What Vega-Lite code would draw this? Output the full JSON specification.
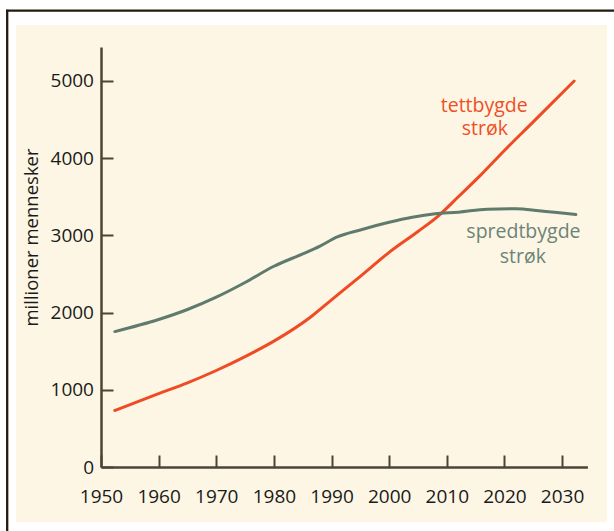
{
  "$schema": "https://vega.github.io/schema/vega-lite/v6.json",
  "autosize": {"type": "none"},
  "padding": {"left": 16, "top": 25, "right": 7, "bottom": 9},
  "width": 591,
  "height": 497,
  "background": "white",
  "config": {
    "view": {"fill": "#fdf6e4", "stroke": null},
    "axis": {"labelFont": "Open Sans", "titleFont": "Open Sans", "grid": false},
    "text": {"font": "Open Sans"}
  },
  "datasets": {
    "lines": [
      {"series": "tettbygde strøk", "year": 1952.4, "value": 732},
      {"series": "tettbygde strøk", "year": 1960, "value": 950},
      {"series": "tettbygde strøk", "year": 1965, "value": 1090},
      {"series": "tettbygde strøk", "year": 1970, "value": 1250},
      {"series": "tettbygde strøk", "year": 1975, "value": 1430},
      {"series": "tettbygde strøk", "year": 1980, "value": 1630},
      {"series": "tettbygde strøk", "year": 1986.5, "value": 1950},
      {"series": "tettbygde strøk", "year": 1990, "value": 2165},
      {"series": "tettbygde strøk", "year": 1995, "value": 2470},
      {"series": "tettbygde strøk", "year": 2000, "value": 2780},
      {"series": "tettbygde strøk", "year": 2005, "value": 3050},
      {"series": "tettbygde strøk", "year": 2008.5, "value": 3250},
      {"series": "tettbygde strøk", "year": 2012, "value": 3500},
      {"series": "tettbygde strøk", "year": 2016, "value": 3790},
      {"series": "tettbygde strøk", "year": 2020, "value": 4100},
      {"series": "tettbygde strøk", "year": 2025, "value": 4470},
      {"series": "tettbygde strøk", "year": 2032.1, "value": 5000},
      {"series": "spredtbygde strøk", "year": 1952.4, "value": 1754},
      {"series": "spredtbygde strøk", "year": 1960, "value": 1910},
      {"series": "spredtbygde strøk", "year": 1965, "value": 2040},
      {"series": "spredtbygde strøk", "year": 1970, "value": 2200},
      {"series": "spredtbygde strøk", "year": 1975, "value": 2390},
      {"series": "spredtbygde strøk", "year": 1980, "value": 2600},
      {"series": "spredtbygde strøk", "year": 1985, "value": 2760},
      {"series": "spredtbygde strøk", "year": 1988, "value": 2860},
      {"series": "spredtbygde strøk", "year": 1991, "value": 2980},
      {"series": "spredtbygde strøk", "year": 1995, "value": 3070},
      {"series": "spredtbygde strøk", "year": 2000, "value": 3170},
      {"series": "spredtbygde strøk", "year": 2004, "value": 3235},
      {"series": "spredtbygde strøk", "year": 2008, "value": 3280},
      {"series": "spredtbygde strøk", "year": 2012, "value": 3300},
      {"series": "spredtbygde strøk", "year": 2017, "value": 3340},
      {"series": "spredtbygde strøk", "year": 2022, "value": 3345},
      {"series": "spredtbygde strøk", "year": 2026, "value": 3320},
      {"series": "spredtbygde strøk", "year": 2032.4, "value": 3270}
    ],
    "labels": [
      {"series": "tettbygde strøk", "label": "tettbygde", "year": 2016.5, "value": 4602},
      {"series": "tettbygde strøk", "label": "strøk", "year": 2016.6, "value": 4295},
      {"series": "spredtbygde strøk", "label": "spredtbygde", "year": 2023.3, "value": 2962},
      {"series": "spredtbygde strøk", "label": "strøk", "year": 2023.2, "value": 2639}
    ],
    "frame": [{"a": 0}, {"a": 1}]
  },
  "layer": [
    {
      "layer": [
        {
          "data": {"name": "lines"},
          "mark": {"type": "line", "strokeWidth": 3, "interpolate": "monotone", "strokeCap": "round"},
          "encoding": {
            "x": {
              "field": "year", "type": "quantitative",
              "scale": {"domain": [1950, 2034.4], "range": [85, 571.4], "zero": false, "nice": false},
              "axis": {
                "orient": "bottom", "offset": -55, "values": [1950, 1960, 1970, 1980, 1990, 2000, 2010, 2020, 2030],
                "format": "d", "title": null,
                "domainColor": "#4a443a", "domainWidth": 2.5,
                "tickColor": "#4a443a", "tickWidth": 2, "tickSize": -12,
                "labelPadding": 47, "labelBaseline": "alphabetic",
                "labelFontSize": 19, "labelColor": "#1a1a1a",
                "labelFlush": false, "labelOverlap": false
              }
            },
            "y": {
              "field": "value", "type": "quantitative",
              "scale": {"domain": [0, 5440], "range": [442, 22], "zero": false, "nice": false},
              "axis": {
                "orient": "left", "offset": -85, "values": [0, 1000, 2000, 3000, 4000, 5000],
                "format": "d",
                "title": "millioner mennesker",
                "titleX": -64, "titleY": 212, "titleAngle": -90,
                "titleAlign": "center", "titleBaseline": "alphabetic",
                "titleFontSize": 18.5, "titleFontWeight": "normal", "titleColor": "#1a1a1a",
                "domainColor": "#4a443a", "domainWidth": 2.5,
                "tickColor": "#4a443a", "tickWidth": 2, "tickSize": -12,
                "labelPadding": 19.5, "labelBaseline": "middle",
                "labelFontSize": 19, "labelColor": "#1a1a1a",
                "labelFlush": false, "labelOverlap": false
              }
            },
            "color": {
              "field": "series", "type": "nominal",
              "scale": {"domain": ["tettbygde strøk", "spredtbygde strøk"], "range": ["#ef4b24", "#5e7b6e"]},
              "legend": null
            }
          }
        },
        {
          "data": {"name": "labels"},
          "mark": {"type": "text", "align": "center", "baseline": "alphabetic", "fontSize": 19.5, "font": "Open Sans"},
          "encoding": {
            "x": {"field": "year", "type": "quantitative"},
            "y": {"field": "value", "type": "quantitative"},
            "text": {"field": "label"},
            "color": {
              "field": "series", "type": "nominal",
              "scale": {"domain": ["tettbygde strøk", "spredtbygde strøk"], "range": ["#f04e26", "#6b8478"]},
              "legend": null
            }
          }
        }
      ],
      "resolve": {"scale": {"color": "independent"}}
    },
    {
      "data": {"name": "frame"},
      "mark": {"type": "point", "opacity": 0, "size": 0},
      "encoding": {
        "x": {
          "field": "a", "type": "quantitative",
          "scale": {"domain": [0, 1], "range": [-10.5, 660], "zero": false, "nice": false},
          "axis": {"orient": "top", "offset": 14.8, "domainColor": "#231a0e", "domainWidth": 2.3, "ticks": false, "labels": false, "title": null}
        },
        "y": {
          "field": "a", "type": "quantitative",
          "scale": {"domain": [0, 1], "range": [560, -15.8], "zero": false, "nice": false},
          "axis": {"orient": "left", "offset": 9.3, "domainColor": "#231a0e", "domainWidth": 2.3, "ticks": false, "labels": false, "title": null}
        }
      }
    }
  ],
  "resolve": {"scale": {"x": "independent", "y": "independent"}, "axis": {"x": "independent", "y": "independent"}}
}
